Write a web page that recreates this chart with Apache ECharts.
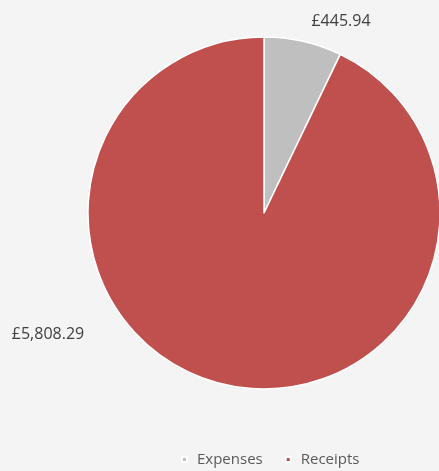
<!DOCTYPE html>
<html>
<head>
<meta charset="utf-8">
<script src="https://cdn.jsdelivr.net/npm/echarts@6/dist/echarts.min.js"></script>
<style>
  html, body { margin: 0; padding: 0; background: #f4f4f4; }
  #chart { width: 439px; height: 471px; }
</style>
</head>
<body>
<div id="chart"></div>
<script>
// Totals shown in the pie
const categories = ['Expenses', 'Receipts'];
const amounts = [445.94, 5808.29];
const sliceColors = ['#bfbfbf', '#c0504d'];

const fmt = v => '£' + v.toLocaleString('en-GB', { minimumFractionDigits: 2, maximumFractionDigits: 2 });

// Label anchor spots (outside end of each slice)
const labelSpots = [[341, 21], [48, 334]];

const chart = echarts.init(document.getElementById('chart'));
chart.setOption({
  backgroundColor: '#f4f4f4',
  animation: false,
  color: sliceColors,
  legend: {
    top: 452,
    left: 181,
    padding: 0,
    itemWidth: 5,
    itemHeight: 5,
    itemGap: 22,
    icon: 'rect',
    textStyle: { color: '#595959', fontSize: 15, fontFamily: 'Open Sans', padding: [0, 0, 0, 5] },
    data: categories
  },
  series: [{
    type: 'pie',
    center: [264, 213],
    radius: [0, 176],
    startAngle: 90,
    clockwise: true,
    itemStyle: { borderColor: '#ffffff', borderWidth: 1.5 },
    label: {
      show: true,
      position: 'outside',
      formatter: p => fmt(p.value),
      color: '#404040',
      fontSize: 16,
      fontFamily: 'Open Sans'
    },
    labelLine: { show: false },
    labelLayout: p => ({
      x: labelSpots[p.dataIndex][0],
      y: labelSpots[p.dataIndex][1],
      align: 'center',
      verticalAlign: 'middle'
    }),
    data: categories.map((c, i) => ({ name: c, value: amounts[i] }))
  }]
});
</script>
</body>
</html>
